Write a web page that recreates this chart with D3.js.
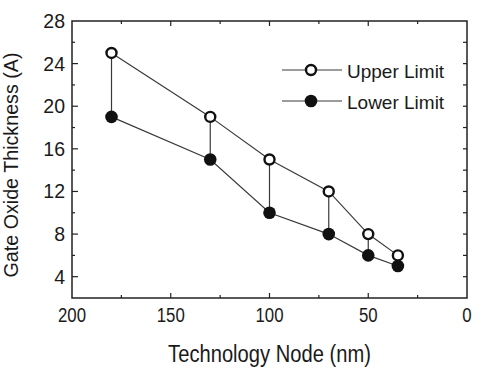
<!DOCTYPE html>
<html><head><meta charset="utf-8">
<script src="https://cdn.jsdelivr.net/npm/d3@7"></script>
<style>body{margin:0;background:#fff}svg{display:block}text{font-family:"Liberation Sans",Arial,sans-serif;fill:#1a1a1a}</style>
</head><body>
<svg id="c" width="494" height="373"></svg>
<script>
const nodes = [180, 130, 100, 70, 50, 35];
const upperLimit = [25, 19, 15, 12, 8, 6];
const lowerLimit = [19, 15, 10, 8, 6, 5];
const xTickValues = [200, 150, 100, 50, 0];
const yTickValues = [4, 8, 12, 16, 20, 24, 28];
const legendLabels = ["Upper Limit", "Lower Limit"];
const xTitle = "Technology Node (nm)";
const yTitle = "Gate Oxide Thickness (A)";

const svg = d3.select("#c");
const L = 72, R = 467, T = 21, B = 298;
const x = d3.scaleLinear().domain([200, 0]).range([L, R]);
const y = d3.scaleLinear().domain([2, 28]).range([B, T]);
const ink = "#222";

// frame
svg.append("rect").attr("x", L).attr("y", T).attr("width", R - L).attr("height", B - T)
  .attr("fill", "none").attr("stroke", ink).attr("stroke-width", 1.5);

// ticks (inward)
const xMinor = d3.range(0, 201, 25);
const yMinor = d3.range(2, 29, 2);
const g = svg.append("g").attr("stroke", ink).attr("stroke-width", 1.2);
xMinor.forEach(v => {
  const len = v % 50 === 0 ? 5 : 3;
  if (v > 0 && v < 200) {
    g.append("line").attr("x1", x(v)).attr("x2", x(v)).attr("y1", B).attr("y2", B - len);
    g.append("line").attr("x1", x(v)).attr("x2", x(v)).attr("y1", T).attr("y2", T + len);
  }
});
yMinor.forEach(v => {
  const len = v % 4 === 0 ? 6 : 3;
  if (v > 2 && v < 28) {
    g.append("line").attr("x1", L).attr("x2", L + len).attr("y1", y(v)).attr("y2", y(v));
    g.append("line").attr("x1", R).attr("x2", R - 4).attr("y1", y(v)).attr("y2", y(v));
  }
});

// tick labels
svg.append("g").selectAll("text").data(xTickValues).join("text")
  .attr("transform", d => `translate(${x(d)},322) scale(0.82,1)`)
  .attr("text-anchor", "middle").attr("font-size", 20.5).text(d => d);
svg.append("g").selectAll("text").data(yTickValues).join("text")
  .attr("x", L - 7).attr("y", d => y(d)).attr("dy", "0.36em")
  .attr("text-anchor", "end").attr("font-size", 19.5).text(d => d);

// titles
svg.append("text").attr("transform", `translate(${(L + R) / 2},362) scale(0.84,1)`)
  .attr("text-anchor", "middle").attr("font-size", 24).text(xTitle);
svg.append("text").attr("transform", `translate(18,165) rotate(-90)`)
  .attr("text-anchor", "middle").attr("font-size", 19.7).text(yTitle);

// data
const up = nodes.map((n, i) => [n, upperLimit[i]]);
const lo = nodes.map((n, i) => [n, lowerLimit[i]]);
const line = d3.line().x(d => x(d[0])).y(d => y(d[1]));
const lineStroke = "#3a3a3a";
svg.append("g").selectAll("line").data(nodes).join("line")
  .attr("x1", d => x(d)).attr("x2", d => x(d))
  .attr("y1", (d, i) => y(upperLimit[i])).attr("y2", (d, i) => y(lowerLimit[i]))
  .attr("stroke", lineStroke).attr("stroke-width", 1.2);
svg.append("path").datum(up).attr("d", line).attr("fill", "none").attr("stroke", lineStroke).attr("stroke-width", 1.2);
svg.append("path").datum(lo).attr("d", line).attr("fill", "none").attr("stroke", lineStroke).attr("stroke-width", 1.2);
svg.append("g").selectAll("circle").data(lo).join("circle")
  .attr("cx", d => x(d[0])).attr("cy", d => y(d[1])).attr("r", 6.3).attr("fill", "#111");
svg.append("g").selectAll("circle").data(up).join("circle")
  .attr("cx", d => x(d[0])).attr("cy", d => y(d[1])).attr("r", 5).attr("fill", "#fff")
  .attr("stroke", "#111").attr("stroke-width", 2.4);

// legend
const leg = svg.append("g");
legendLabels.forEach((lab, i) => {
  const ly = 70 + i * 31;
  leg.append("line").attr("x1", 282).attr("x2", 342).attr("y1", ly).attr("y2", ly)
    .attr("stroke", lineStroke).attr("stroke-width", 1.2);
  if (i === 0) leg.append("circle").attr("cx", 311).attr("cy", ly).attr("r", 5).attr("fill", "#fff").attr("stroke", "#111").attr("stroke-width", 2.4);
  else leg.append("circle").attr("cx", 311).attr("cy", ly).attr("r", 6.3).attr("fill", "#111");
  leg.append("text").attr("x", 347).attr("y", ly + 7.5).attr("font-size", 19).text(lab);
});
</script>
</body></html>
